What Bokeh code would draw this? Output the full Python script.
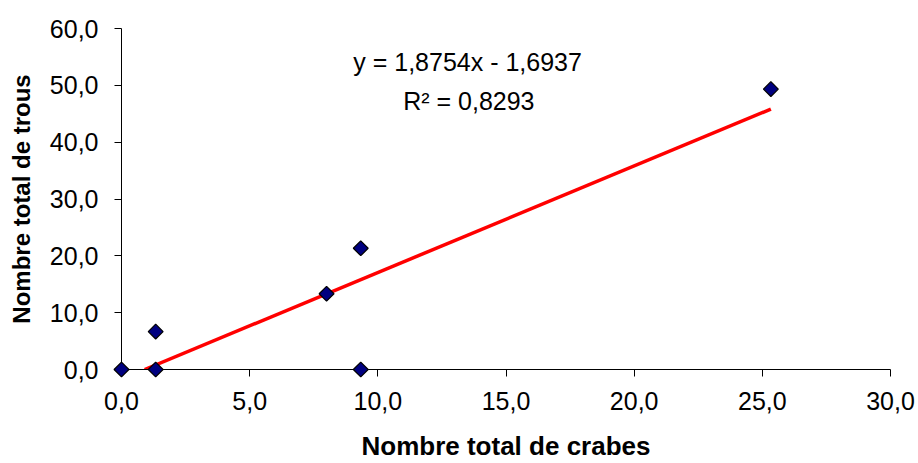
import numpy as np
from bokeh.plotting import figure
from bokeh.models import FixedTicker
from bokeh.embed import file_html
from bokeh.resources import INLINE
from bokeh.core.properties import value

# Data
crabes = [0.0, 1.333, 1.333, 8.0, 9.333, 9.333, 25.333]
trous = [0.0, 0.0, 6.667, 13.333, 21.333, 0.0, 49.333]
slope = 1.8754
intercept = -1.6937
r2 = 0.8293
x_ticks = [0, 5, 10, 15, 20, 25, 30]
x_tick_labels = ["0,0", "5,0", "10,0", "15,0", "20,0", "25,0", "30,0"]
y_ticks = [0, 10, 20, 30, 40, 50, 60]
y_tick_labels = ["0,0", "10,0", "20,0", "30,0", "40,0", "50,0", "60,0"]
eq_text = "y = 1,8754x - 1,6937"
r2_text = "R² = 0,8293"

FONT = "Liberation Sans"

p = figure(width=918, height=463, output_backend="svg", toolbar_location=None,
           x_range=(0, 30), y_range=(0, 60),
           min_border_left=121, min_border_right=28, min_border_top=28, min_border_bottom=94)
p.outline_line_color = None
p.grid.visible = False
p.background_fill_color = "white"
p.border_fill_color = "white"

for ax, ticks, labels in ((p.xaxis[0], x_ticks, x_tick_labels), (p.yaxis[0], y_ticks, y_tick_labels)):
    ax.ticker = FixedTicker(ticks=ticks)
    ax.major_label_overrides = {t: l for t, l in zip(ticks, labels)}
    ax.minor_tick_line_color = None
    ax.major_tick_out = 7
    ax.major_tick_in = 0
    ax.axis_line_color = "black"
    ax.major_tick_line_color = "black"
    ax.major_label_text_font = FONT
    ax.major_label_text_font_size = "25px"
    ax.major_label_text_color = "black"
    ax.axis_label_text_font = FONT
    ax.axis_label_text_font_style = "bold"
    ax.axis_label_text_color = "black"

p.xaxis.major_label_standoff = 15
p.yaxis.major_label_standoff = 16
p.xaxis.axis_label_text_font_size = "26px"
p.yaxis.axis_label_text_font_size = "24px"
p.xaxis.axis_label_standoff = 18
p.yaxis.axis_label_standoff = 12

p.xaxis.axis_label = "Nombre total de crabes"
p.yaxis.axis_label = "Nombre total de trous"

# Trend line (clipped at y = 0 like the original)
x0 = max(min(crabes), -intercept / slope)
x1 = max(crabes)
p.line([x0, x1], [slope * x0 + intercept, slope * x1 + intercept],
       line_color="#FF0000", line_width=3.5)

# Points
p.scatter(crabes, trous, marker="square", angle=np.pi / 4, size=10.5,
          fill_color="#000080", line_color="black", line_width=1.2, level="overlay")

# Equation texts
p.text(x=[13.5], y=[54.05], text=[eq_text], text_font=value(FONT), text_font_size="25px",
       text_align="center", text_baseline="alphabetic", text_color="black")
p.text(x=[13.55], y=[47.2], text=[r2_text], text_font=value(FONT), text_font_size="25px",
       text_align="center", text_baseline="alphabetic", text_color="black")

open("out.html", "w").write(file_html(p, INLINE))
